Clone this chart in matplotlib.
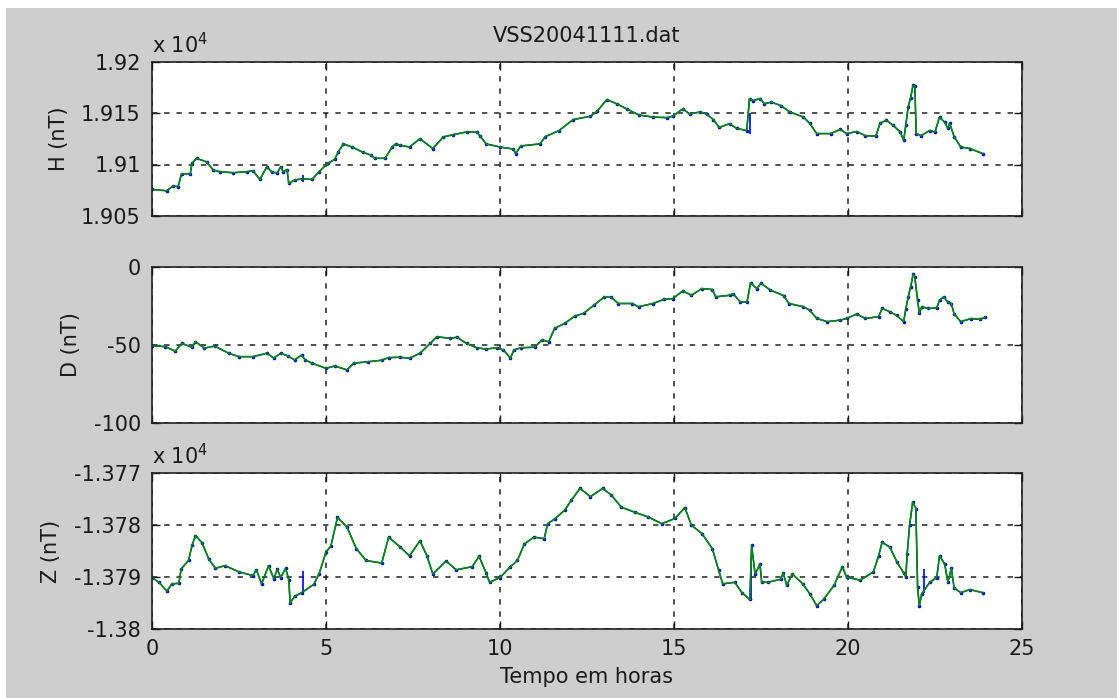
import matplotlib
matplotlib.use("Agg")
import matplotlib.pyplot as plt
from matplotlib.patches import Rectangle

plt.rcParams['font.family'] = ['DejaVu Sans']

title = "VSS20041111.dat"
xlabel = "Tempo em horas"
xticks = [0, 5, 10, 15, 20, 25]

# Horizontal component H (nT)
h_t = [0.0, 0.42, 0.6, 0.75, 0.85, 1.1, 1.15, 1.28, 1.57, 1.76, 1.95, 2.34, 2.72, 2.9, 3.1,
       3.3, 3.45, 3.6, 3.7, 3.77, 3.88, 3.93, 4.1, 4.3, 4.6, 4.8, 5.05, 5.25, 5.35, 5.5,
       5.75, 6.05, 6.3, 6.4, 6.7, 6.9, 7.0, 7.13, 7.4, 7.7, 8.07, 8.37, 8.66, 9.04, 9.33,
       9.42, 9.6, 10.0, 10.38, 10.45, 10.6, 11.15, 11.3, 11.7, 12.1, 12.6, 12.8, 13.07,
       13.35, 13.64, 14.0, 14.4, 14.8, 14.97, 15.25, 15.45, 15.75, 15.94, 16.13, 16.3,
       16.6, 16.8, 17.09, 17.17, 17.28, 17.47, 17.6, 17.8, 18.08, 18.33, 18.72, 18.9,
       19.1, 19.5, 19.78, 19.96, 20.25, 20.5, 20.8, 20.92, 21.1, 21.3, 21.5, 21.6,
       21.66, 21.73, 21.8, 21.87, 21.92, 21.96, 22.1, 22.35, 22.5, 22.63, 22.78,
       22.87, 22.92, 23.05, 23.24, 23.5, 23.87]
h_val = [19075.8, 19074.5, 19079, 19078.5, 19091, 19091, 19101, 19106, 19102.5, 19094.5,
         19093, 19092, 19093, 19094, 19085.5, 19097.7, 19092.5, 19092, 19097.7, 19093,
         19095, 19081.6, 19085, 19086, 19085.5, 19093, 19101, 19105, 19112, 19120,
         19117, 19112, 19109, 19106, 19106, 19117, 19120, 19118.7, 19117, 19125,
         19115.5, 19126.7, 19129, 19131.6, 19131.6, 19128, 19120, 19117, 19115,
         19110.6, 19118, 19120, 19127, 19133, 19143.6, 19146.8, 19152, 19163, 19159,
         19154, 19148, 19146, 19145.5, 19147, 19154, 19149, 19151, 19149, 19143.6,
         19136, 19139.7, 19135, 19133, 19164, 19162, 19164, 19159, 19160.6, 19157,
         19151, 19146, 19140, 19130, 19130, 19134, 19130, 19132, 19128, 19127.5,
         19140, 19143, 19138, 19131.6, 19123.5, 19138, 19156, 19165, 19177, 19176,
         19130, 19128, 19133, 19131.5, 19146, 19141, 19135, 19140, 19127, 19117,
         19115.5, 19110.6]

# Declination D (nT)
d_t = [0.0, 0.38, 0.67, 0.86, 1.15, 1.25, 1.5, 1.8, 2.2, 2.5, 2.9, 3.3, 3.5, 3.7, 3.9,
       4.1, 4.3, 4.4, 4.6, 5.0, 5.25, 5.6, 5.8, 6.2, 6.6, 6.8, 7.13, 7.4, 7.7, 8.0, 8.18,
       8.57, 8.76, 9.04, 9.33, 9.6, 9.9, 10.1, 10.3, 10.4, 10.6, 11.0, 11.2, 11.4, 11.57,
       11.86, 12.15, 12.4, 12.7, 13.0, 13.2, 13.4, 13.8, 13.98, 14.4, 14.7, 14.97, 15.25,
       15.5, 15.8, 16.1, 16.2, 16.6, 16.7, 16.9, 17.1, 17.2, 17.38, 17.5, 17.77, 18.15,
       18.3, 18.72, 18.9, 19.1, 19.4, 19.78, 19.96, 20.25, 20.5, 20.88, 20.98, 21.2,
       21.4, 21.6, 21.66, 21.73, 21.8, 21.87, 21.92, 22.0, 22.05, 22.12, 22.3, 22.55,
       22.63, 22.75, 22.87, 22.97, 23.05, 23.24, 23.53, 23.8, 23.95]
d_val = [-50.6, -51, -54, -49, -51.5, -47.9, -52, -50.7, -55.3, -57.5, -57.5, -55.3,
         -58.4, -55.3, -57, -59.6, -56.5, -59.6, -61.7, -65, -63.5, -66, -61.7, -60.8,
         -59.8, -58.1, -57.9, -58.5, -55.3, -48.9, -44.7, -45.7, -45, -49, -51.8, -52.6,
         -51.8, -53.2, -58.5, -53.2, -51.8, -51.4, -46.8, -47.9, -39.3, -36.1, -31.4,
         -29.7, -24.4, -19, -19.4, -23.3, -23.3, -25.4, -23.3, -20.7, -20.1, -15.2, -18,
         -13.7, -14.3, -19, -18, -17, -22.2, -22.2, -10, -13.7, -10.3, -14.7, -18.2,
         -23.3, -25.4, -27.6, -32.9, -35, -34, -32.9, -30.1, -32.9, -31.8, -26.5, -28.6,
         -31, -35, -27, -19, -12.6, -4.5, -6.2, -21.2, -29.7, -25.4, -26.5, -26.1,
         -21.2, -19, -22.4, -23.3, -30, -35, -33, -33.5, -32]

# Vertical component Z (nT)
z_t = [0.0, 0.2, 0.43, 0.57, 0.77, 0.84, 1.05, 1.15, 1.25, 1.44, 1.63, 1.82, 2.1, 2.5,
       2.9, 3.0, 3.15, 3.35, 3.5, 3.6, 3.7, 3.84, 3.93, 3.97, 4.1, 4.3, 4.65, 4.8, 5.0,
       5.14, 5.33, 5.6, 5.87, 6.15, 6.6, 6.8, 7.13, 7.4, 7.7, 7.9, 8.07, 8.45, 8.74, 9.2,
       9.4, 9.6, 9.7, 10.0, 10.3, 10.5, 10.7, 10.98, 11.27, 11.37, 11.57, 11.86, 12.05,
       12.3, 12.6, 12.95, 13.2, 13.48, 13.87, 14.25, 14.65, 15.03, 15.31, 15.5, 15.8,
       16.1, 16.28, 16.4, 16.75, 16.95, 17.18, 17.23, 17.33, 17.47, 17.52, 17.7, 18.07,
       18.14, 18.24, 18.4, 18.7, 18.9, 19.1, 19.3, 19.6, 19.84, 19.96, 20.35, 20.73,
       20.88, 20.98, 21.2, 21.4, 21.6, 21.66, 21.7, 21.77, 21.86, 21.95, 22.0, 22.05,
       22.12, 22.35, 22.55, 22.63, 22.78, 22.87, 22.97, 23.05, 23.24, 23.5, 23.87]
z_val = [-13790.1, -13791, -13792.7, -13791.3, -13791.2, -13788.4, -13786.8, -13783.9,
         -13782, -13783.4, -13786.5, -13788.3, -13787.8, -13789, -13789.7, -13788.6,
         -13791.3, -13787.8, -13790.3, -13788.5, -13790.1, -13788.3, -13790.5, -13795,
         -13793.7, -13793, -13791.4, -13789.4, -13785.2, -13784, -13778.5, -13780.3,
         -13784.5, -13786.8, -13787.3, -13782.3, -13784.2, -13785.9, -13783, -13785.9,
         -13789.4, -13786.9, -13788.6, -13788, -13786, -13789.2, -13791, -13790.1,
         -13788, -13786.8, -13783.6, -13782.3, -13782.6, -13779.7, -13778.8, -13777.1,
         -13775.2, -13772.9, -13774.5, -13772.9, -13774.2, -13776.5, -13777.5, -13778.4,
         -13779.7, -13778.7, -13776.6, -13780, -13781.6, -13784.5, -13788.6, -13791.3,
         -13791, -13793, -13794.3, -13783.9, -13789.4, -13787.5, -13791, -13791,
         -13790.4, -13789.2, -13791.6, -13789.4, -13791.3, -13793.2, -13795.5, -13794.3,
         -13791.6, -13788, -13790, -13790.6, -13789, -13785.9, -13783.3, -13784.2,
         -13787, -13789.2, -13790, -13785.6, -13780, -13775.5, -13776.8, -13792,
         -13795.5, -13793.2, -13791, -13790.1, -13785.9, -13787.5, -13791, -13788.3,
         -13792.1, -13793, -13792.4, -13793]

# Short spikes present only in the raw (blue) record
h_spike_t = [4.34, 17.17]
h_spike_lo = [19083, 19130]
h_spike_hi = [19090, 19150]
z_spike_t = [4.34, 17.2, 22.17]
z_spike_lo = [-13793.5, -13794, -13793]
z_spike_hi = [-13788.8, -13788, -13788.5]

GRAY = '#cecece'
BLUE = '#0000ff'
GREEN = '#008800'
TXT = '#1a1a1a'
FS = 15

fig = plt.figure(figsize=(11.17, 6.98), dpi=100, facecolor='white')
fig.patches.append(Rectangle((6 / 1117, 0), 1, 1 - 8 / 698, transform=fig.transFigure,
                             facecolor=GRAY, edgecolor='none', zorder=-10))

L, W = 152 / 1117, 870 / 1117
positions = [
    (L, 1 - 216 / 698, W, 154.5 / 698),
    (L, 1 - 422.7 / 698, W, 155.4 / 698),
    (L, 1 - 629 / 698, W, 155.7 / 698),
]

scale = [1e4, 1.0, 1e4]
series = [(h_t, h_val), (d_t, d_val), (z_t, z_val)]
ylabels = ['H (nT)', 'D (nT)', 'Z (nT)']
ylims = [(1.905, 1.92), (-100, 0), (-1.38, -1.377)]
yticks = [[1.905, 1.91, 1.915, 1.92], [-100, -50, 0], [-1.38, -1.379, -1.378, -1.377]]
ytick_labels = [['1.905', '1.91', '1.915', '1.92'], ['-100', '-50', '0'],
                ['-1.38', '-1.379', '-1.378', '-1.377']]
spikes = [(h_spike_t, h_spike_lo, h_spike_hi), None, (z_spike_t, z_spike_lo, z_spike_hi)]

axes = []
for i, pos in enumerate(positions):
    ax = fig.add_axes(pos)
    ax.set_facecolor('white')
    t, v = series[i]
    vs = [x / scale[i] for x in v]
    ax.plot(t, vs, color=BLUE, lw=1.0, marker='o', ms=1.6, mec=BLUE, mfc=BLUE, zorder=3)
    if spikes[i] is not None:
        st, lo, hi = spikes[i]
        ax.vlines(st, [x / scale[i] for x in lo], [x / scale[i] for x in hi],
                  color=BLUE, lw=1.2, zorder=3)
    ax.plot(t, vs, color=GREEN, lw=1.2, zorder=4)
    ax.set_xlim(0, 25)
    ax.set_ylim(*ylims[i])
    ax.set_xticks(xticks)
    ax.set_yticks(yticks[i])
    ax.set_yticklabels(ytick_labels[i])
    if i < 2:
        ax.set_xticklabels([])
    ax.grid(True, color='#202020', linestyle=(0, (3.5, 4.5)), lw=1.1, zorder=1)
    ax.tick_params(direction='in', length=6, width=1, top=True, right=True,
                   labelsize=FS, colors=TXT)
    ax.tick_params(axis='y', pad=8)
    ax.tick_params(axis='x', pad=7)
    for s in ax.spines.values():
        s.set_linewidth(1.2)
        s.set_color('#202020')
        s.set_zorder(5)
    ax.set_ylabel(ylabels[i], fontsize=FS, color=TXT, labelpad=9)
    axes.append(ax)

axes[0].set_title(title, fontsize=FS, color=TXT, pad=14)
axes[2].set_xlabel(xlabel, fontsize=FS, color=TXT, labelpad=6)

for ax in (axes[0], axes[2]):
    ax.text(0.0, 1.03, r'x 10$^{4}$', transform=ax.transAxes, fontsize=FS,
            color=TXT, ha='left', va='bottom')

fig.savefig('out.png', dpi=100, facecolor=fig.get_facecolor())
